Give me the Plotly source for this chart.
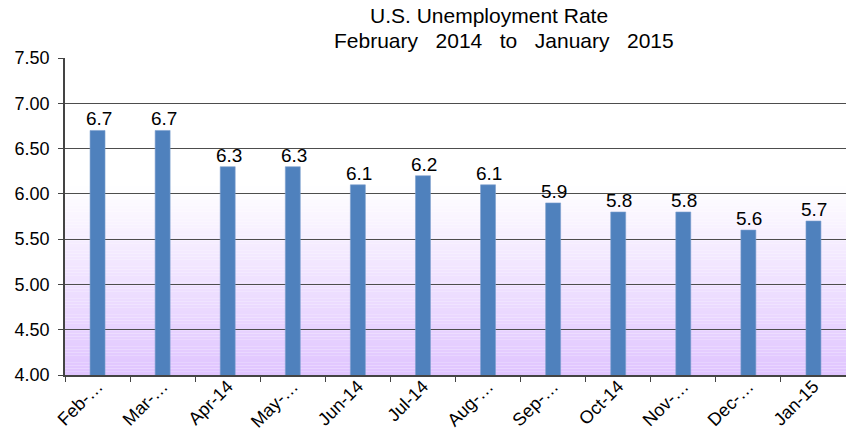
import plotly.graph_objects as go

months = ["Feb-…", "Mar-…", "Apr-14", "May-…", "Jun-14", "Jul-14", "Aug-…",
          "Sep-…", "Oct-14", "Nov-…", "Dec-…", "Jan-15"]
rates = [6.7, 6.7, 6.3, 6.3, 6.1, 6.2, 6.1, 5.9, 5.8, 5.8, 5.6, 5.7]
y_ticks = [4.0, 4.5, 5.0, 5.5, 6.0, 6.5, 7.0, 7.5]
title_line1 = "U.S. Unemployment Rate"
title_line2 = "February\u00a0\u00a0\u00a02014\u00a0\u00a0\u00a0to\u00a0\u00a0\u00a0January\u00a0\u00a0\u00a02015"

FONT = "Liberation Sans, Arial"
PLOT_TOP, PLOT_H, PLOT_L, PLOT_W = 58, 317, 65, 781

fig = go.Figure()
fig.add_trace(go.Bar(
    x=months, y=rates, width=0.23,
    marker=dict(color="#4F81BD", line=dict(color="#7DA0CF", width=0.6)),
))

# data labels sitting right on top of the bars
for m, v in zip(months, rates):
    fig.add_annotation(x=m, y=v, text=f"{v:.1f}", showarrow=False,
                       xanchor="center", yanchor="bottom", yshift=-1, xshift=1,
                       font=dict(family=FONT, size=19, color="#000"))

# gradient background (white at ~6.1 to lavender at 4.0)
steps = 60
y0, y1 = 4.0, 6.12
c_bot = (224, 197, 255)
c_top = (255, 255, 255)
for i in range(steps):
    a = y0 + (y1 - y0) * i / steps
    b = y0 + (y1 - y0) * (i + 1) / steps
    t = (i + 0.5) / steps
    c = tuple(round(c_bot[k] + (c_top[k] - c_bot[k]) * t) for k in range(3))
    fig.add_shape(type="rect", xref="paper", yref="y", x0=0, x1=1, y0=a, y1=b,
                  fillcolor=f"rgb{c}", line=dict(width=0), layer="below")

def px_x(x):
    return (x - PLOT_L) / PLOT_W

def px_y(y):
    return 1 + (PLOT_TOP - y) / PLOT_H

fig.add_annotation(text=title_line1, xref="paper", yref="paper",
                   x=px_x(489), y=px_y(16), xanchor="center", yanchor="middle",
                   showarrow=False, font=dict(family=FONT, size=21, color="#000"))
fig.add_annotation(text=title_line2, xref="paper", yref="paper",
                   x=px_x(504), y=px_y(41), xanchor="center", yanchor="middle",
                   showarrow=False, font=dict(family=FONT, size=21, color="#000"))

fig.update_layout(
    width=846, height=438,
    margin=dict(l=PLOT_L, r=0, t=PLOT_TOP, b=63, autoexpand=False),
    paper_bgcolor="white", plot_bgcolor="white",
    showlegend=False,
    font=dict(family=FONT, size=18, color="#000"),
)
fig.update_yaxes(range=[4.0, 7.5], tickvals=y_ticks, tickformat=".2f",
                 showgrid=True, gridcolor="#4d4d4d", gridwidth=1.4,
                 showline=True, linecolor="#444", linewidth=1.6,
                 ticks="outside", ticklen=5, tickcolor="#444",
                 ticklabelstandoff=5,
                 tickfont=dict(size=18), zeroline=False, automargin=False)
fig.update_xaxes(showline=True, linecolor="#444", linewidth=1.6,
                 ticks="outside", ticklen=5, tickcolor="#444",
                 tickson="boundaries", tickangle=-45,
                 ticklabelstandoff=-8,
                 tickfont=dict(size=18), automargin=False)

fig.write_html("out.html", config={"displayModeBar": False},
               post_script="document.body.style.margin='0';document.body.style.padding='0';")
